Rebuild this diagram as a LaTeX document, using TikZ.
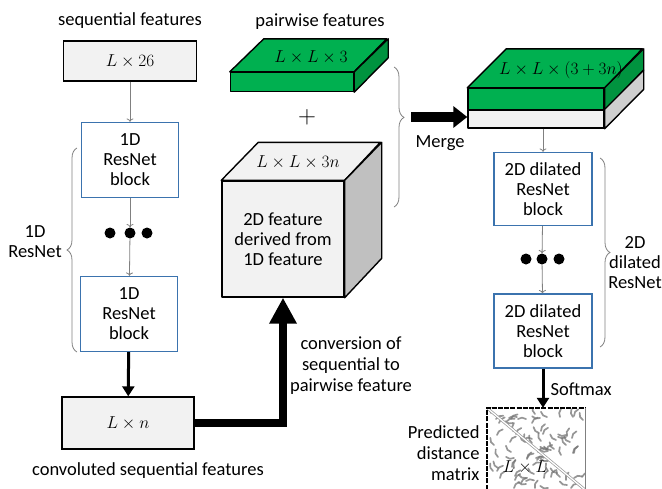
\documentclass[tikz,border=0pt]{standalone}
\usepackage{fontspec}
\setmainfont{Carlito}
\usepackage{amsmath}
\usetikzlibrary{arrows.meta,decorations.pathreplacing}

\definecolor{boxgray}{HTML}{F2F2F2}
\definecolor{cubeside}{HTML}{C0C0C0}
\definecolor{resblue}{HTML}{3B73AE}
\definecolor{greenA}{HTML}{00B050}
\definecolor{greenB}{HTML}{00933F}
\definecolor{mgside}{HTML}{CFCFCF}

\newcommand{\mathsz}{\fontsize{17}{17}\selectfont}

\tikzset{
  feat/.style={draw, fill=boxgray, line width=1.4pt},
  res/.style={draw=resblue, fill=white, line width=1.4pt, minimum width=97pt, minimum height=75pt, align=center},
  face/.style={draw=black, line width=1.4pt, line join=round},
  thinarr/.style={->, draw=gray, line width=0.8pt},
  bigarr/.style={line width=3pt, -{Triangle[width=12pt,length=10pt]}},
  dot/.style={circle, fill=black, inner sep=0pt, minimum size=11pt},
  grp/.style={decorate, draw=gray, line width=0.8pt},
  blot/.style={draw=black!55, line width=1.7pt, line cap=round, opacity=0.75},
}

\begin{document}
\begin{tikzpicture}[x=1pt, y=-1pt, font=\fontsize{18.5}{20}\selectfont]
    \clip (0,0) rectangle (662,488);
    % sequential branch
    \node at (130,21) (seqlbl) {sequential features};
    \node[feat, minimum width=133pt, minimum height=40pt] at (130,61) (seq) {\mathsz$L\times 26$};
    \node[res] at (130,160) (r1a) {1D\\ResNet\\block};
    \node[dot] at (110,233) (d1a) {}; \node[dot] at (130,233) (d1b) {}; \node[dot] at (147,233) (d1c) {};
    \node[res] at (129,314) (r1b) {1D\\ResNet\\block};
    \node[feat, minimum width=132pt, minimum height=52pt] at (128,423) (ln) {\mathsz$L\times n$};
    \node at (148,471) (convlbl) {convoluted sequential features};
    \draw[thinarr] (seq) -- (r1a);
    \draw[thinarr] (r1a) -- (d1b);
    \draw[thinarr] (d1b) -- (r1b);
    \draw[bigarr] (r1b) -- (ln);
    % 1D brace
    \draw[grp, decoration={brace, amplitude=10pt}] (77,352) -- (77,148);
    \node[align=center] at (35,242) (lbl1d) {1D\\ResNet};
    % pairwise features slab
    \node at (320,22) (pwlbl) {pairwise features};
    \node[face, fill=greenA, minimum width=123pt, minimum height=19pt, inner sep=0pt] at (292,82) (pw) {};
    \draw[face, fill=greenA] (pw.north west) -- ++(34,-33) -- ++(123,0) -- (pw.north east) -- cycle;
    \draw[face, fill=greenB] (pw.north east) -- ++(34,-33) -- ++(0,19) -- (pw.south east) -- cycle;
    \node at (311,57) (pwtxt) {\mathsz$L\times L\times 3$};
    \node at (307,117) (plus) {\fontsize{26}{26}\selectfont$+$};
    % cube from 1D features
    \node[face, fill=boxgray, minimum width=122pt, minimum height=116pt, align=center] at (283,239) (cube) {2D feature\\derived from\\1D feature};
    \draw[face, fill=boxgray] (cube.north west) -- ++(37,-38) -- ++(122,0) -- (cube.north east) -- cycle;
    \draw[face, fill=cubeside] (cube.north east) -- ++(37,-38) -- ++(0,116) -- (cube.south east) -- cycle;
    \node at (298,162) (cubetxt) {\mathsz$L\times L\times 3n$};
    % conversion
    \draw[line width=8pt, -{Triangle[width=26pt,length=26pt]}] (ln.east) -| (cube.south);
    \node[align=center, font=\fontsize{18.5}{21}\selectfont] at (351,366) (convtxt) {conversion of\\sequential to\\pairwise feature};
    % merge
    \draw[grp, decoration={brace, amplitude=10pt, aspect=0.36}] (394,67) -- (394,207);
    \coordinate (mtip) at (411,117);
    \node[face, fill=greenA, minimum width=136pt, minimum height=21pt, inner sep=0pt] at (536,99) (mgt) {};
    \node[face, fill=boxgray, minimum width=136pt, minimum height=18pt, inner sep=0pt] at (536,119) (mgb) {};
    \draw[face, fill=greenA] (mgt.north west) -- ++(39,-39) -- ++(136,0) -- (mgt.north east) -- cycle;
    \draw[face, fill=greenB] (mgt.north east) -- ++(39,-39) -- ++(0,21) -- (mgt.south east) -- cycle;
    \draw[face, fill=mgside] (mgb.north east) -- ++(39,-39) -- ++(0,19) -- (mgb.south east) -- cycle;
    \node at (561,70) (mgtxt) {\mathsz$L\times L\times (3+3n)$};
    \draw[line width=10pt, -{Triangle[width=21pt,length=14pt]}] (mtip) -- (mtip -| mgb.west);
    \node at (440,143) (mergelbl) {Merge};
    % 2D dilated branch
    \node[res, minimum width=98pt, minimum height=73pt] at (543,189) (r2a) {2D dilated\\ResNet\\block};
    \node[dot] at (526,259) (d2a) {}; \node[dot] at (542,259) (d2b) {}; \node[dot] at (559,259) (d2c) {};
    \node[res, minimum width=98pt, minimum height=74pt] at (543,331) (r2b) {2D dilated\\ResNet\\block};
    \draw[thinarr] (r2a.north |- mgb.south) -- (r2a.north);
    \draw[thinarr] (r2a) -- (d2b);
    \draw[thinarr] (d2b) -- (r2b);
    \draw[grp, decoration={brace, amplitude=10pt}] (600,158) -- (600,347);
    \node[align=center, inner sep=1pt] at (635,263) (lbl2d) {2D\\dilated\\ResNet};
    % distance matrix
    \node[minimum width=98pt, minimum height=100pt, inner sep=0pt] at (536,458) (dm) {};
    \begin{scope}
        \clip (dm.south west) rectangle (dm.north east);
        \pgfmathsetseed{17}
        \foreach \k in {1,...,80} {
            \pgfmathrandominteger{\u}{2}{96}
            \pgfmathrandominteger{\v}{2}{80}
            \pgfmathrandominteger{\a}{0}{179}
            \draw[blot] (487+\u,408+\v) to[bend left=35] ++(\a:8pt);
        }
        \draw[gray!80, double=white, double distance=1.3pt, line width=0.7pt] (dm.north west) -- ++(103,86);
    \end{scope}
    \draw[line width=2.4pt, dash pattern=on 5pt off 1.2pt] (dm.south west) -- (dm.north west) -- (dm.north east);
    \draw[gray, line width=0.6pt] (dm.north east) -- (dm.south east);
    \node at (525,467) (dmtxt) {\fontsize{19}{19}\selectfont$L\times L$};
    \draw[bigarr] (r2b.south) -- (r2b.south |- dm.north);
    \node[anchor=west] at (547,389) (smlbl) {Softmax};
    \node[anchor=east, align=right, font=\fontsize{18.5}{21}\selectfont] at (483,453) (dmlbl) {Predicted\\distance\\matrix};
\end{tikzpicture}
\end{document}
